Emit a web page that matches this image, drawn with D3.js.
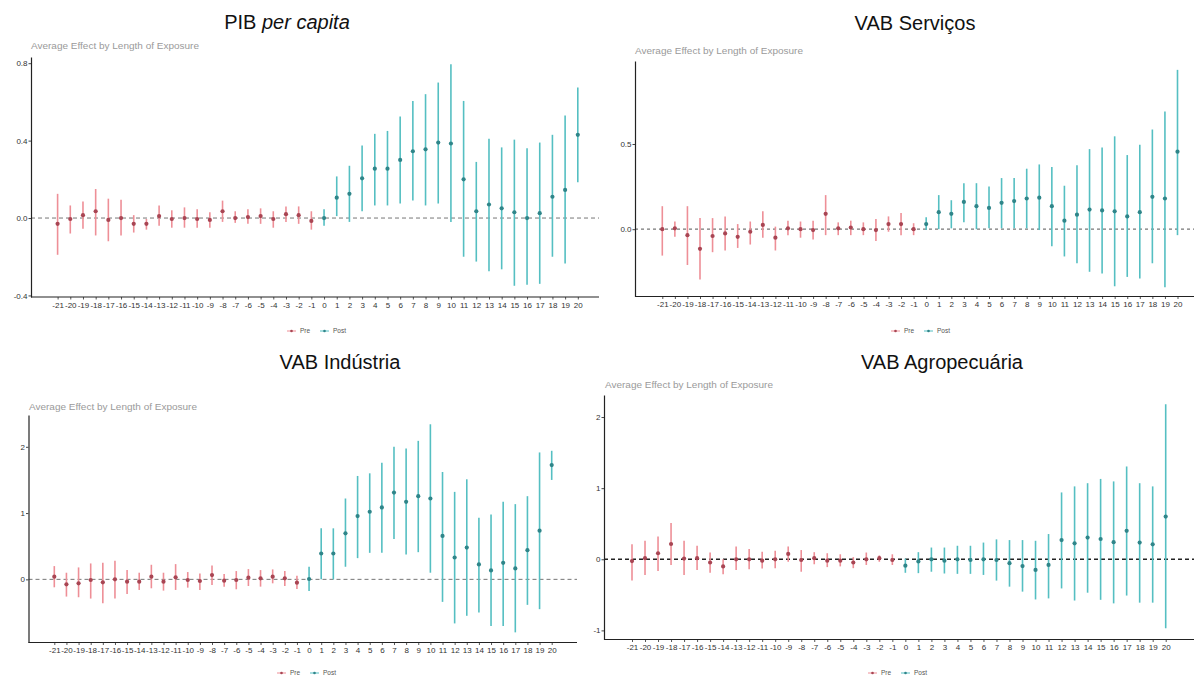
<!DOCTYPE html>
<html>
<head>
<meta charset="utf-8">
<script src="https://cdn.jsdelivr.net/npm/d3@7"></script>
<style>
  html, body { margin: 0; padding: 0; background: #fff; }
  svg { display: block; }
  text { font-family: "Liberation Sans", Arial, sans-serif; }
</style>
</head>
<body>
<svg id="chart" width="1194" height="677"></svg>
<script>
// ---------------- DATA ----------------
const events = [-21,-20,-19,-18,-17,-16,-15,-14,-13,-12,-11,-10,-9,-8,-7,-6,-5,-4,-3,-2,-1,
                 0,1,2,3,4,5,6,7,8,9,10,11,12,13,14,15,16,17,18,19,20];
const groups = ["Pre", "Post"];

// PIB per capita
const pibEst = [-0.03,-0.005,0.015,0.035,-0.01,0.0,-0.03,-0.03,0.01,-0.005,0.0,-0.005,-0.01,0.035,0.0,0.005,0.01,-0.005,0.02,0.015,-0.015,
                0.0,0.105,0.125,0.205,0.255,0.255,0.30,0.345,0.355,0.39,0.385,0.20,0.035,0.07,0.05,0.03,0.0,0.025,0.11,0.145,0.43];
const pibHi  = [0.125,0.065,0.085,0.15,0.10,0.095,0.015,-0.005,0.065,0.04,0.055,0.045,0.03,0.09,0.035,0.045,0.05,0.035,0.06,0.06,0.035,
                0.045,0.215,0.27,0.375,0.435,0.45,0.525,0.605,0.64,0.70,0.795,0.605,0.29,0.41,0.365,0.405,0.36,0.39,0.43,0.53,0.675];
const pibLo  = [-0.19,-0.08,-0.055,-0.09,-0.12,-0.09,-0.075,-0.06,-0.04,-0.05,-0.05,-0.05,-0.05,-0.02,-0.025,-0.03,-0.03,-0.05,-0.02,-0.03,-0.06,
                -0.04,0.01,-0.02,0.035,0.065,0.065,0.075,0.09,0.065,0.075,-0.02,-0.20,-0.225,-0.275,-0.265,-0.35,-0.345,-0.34,-0.20,-0.235,0.185];
const pibTicks = [-0.4, 0.0, 0.4, 0.8];

// VAB Serviços
const servEst = [0,0.005,-0.035,-0.115,-0.04,-0.025,-0.045,-0.015,0.025,-0.05,0.005,0,-0.005,0.09,0.005,0.01,0,-0.005,0.03,0.03,0,
                 0.03,0.10,0.09,0.16,0.135,0.125,0.155,0.165,0.18,0.185,0.135,0.05,0.085,0.115,0.11,0.105,0.075,0.10,0.19,0.18,0.455];
const servHi  = [0.135,0.045,0.135,0.065,0.065,0.075,0.03,0.045,0.105,0.015,0.05,0.045,0.05,0.2,0.04,0.05,0.04,0.06,0.075,0.095,0.035,
                 0.07,0.2,0.17,0.27,0.27,0.25,0.30,0.30,0.355,0.38,0.365,0.255,0.375,0.47,0.48,0.545,0.435,0.495,0.585,0.69,0.935];
const servLo  = [-0.155,-0.045,-0.21,-0.295,-0.135,-0.125,-0.11,-0.09,-0.05,-0.125,-0.035,-0.05,-0.06,-0.035,-0.035,-0.035,-0.035,-0.07,-0.015,-0.035,-0.035,
                 -0.005,0.0,0.005,0.04,0.0,0.005,0.005,0.005,0.005,-0.005,-0.1,-0.16,-0.2,-0.25,-0.26,-0.335,-0.28,-0.29,-0.2,-0.34,-0.035];
const servTicks = [0.0, 0.5];

// VAB Indústria
const indEst = [0.04,-0.075,-0.06,-0.01,-0.045,0.0,-0.035,-0.035,0.04,-0.035,0.03,-0.01,-0.025,0.065,-0.02,-0.01,0.025,0.015,0.04,0.015,-0.05,
                0.005,0.39,0.39,0.695,0.955,1.02,1.085,1.31,1.17,1.255,1.22,0.655,0.33,0.48,0.225,0.135,0.25,0.165,0.44,0.735,1.725];
const indHi  = [0.2,0.1,0.18,0.24,0.25,0.28,0.14,0.1,0.22,0.1,0.23,0.11,0.09,0.21,0.08,0.125,0.155,0.14,0.15,0.125,0.055,
                0.19,0.77,0.77,1.22,1.56,1.6,1.76,2.0,1.975,2.09,2.34,1.62,1.32,1.51,0.93,0.98,1.17,1.135,1.255,1.915,1.94];
const indLo  = [-0.12,-0.26,-0.27,-0.29,-0.36,-0.29,-0.22,-0.16,-0.135,-0.17,-0.16,-0.125,-0.16,-0.085,-0.11,-0.15,-0.1,-0.11,-0.06,-0.1,-0.145,
                -0.175,0.0,0.0,0.19,0.32,0.40,0.40,0.61,0.375,0.41,0.10,-0.34,-0.665,-0.55,-0.5,-0.705,-0.705,-0.80,-0.385,-0.45,1.5];
const indTicks = [0, 1, 2];

// VAB Agropecuária
const agroEst = [-0.025,0.015,0.085,0.215,0.01,0.015,-0.045,-0.10,0.0,0.0,-0.02,0.0,0.075,-0.01,0.015,-0.02,-0.02,-0.045,0.0,0.015,-0.01,
                 -0.09,-0.03,0.0,-0.02,0.0,-0.01,0.0,-0.01,-0.055,-0.095,-0.15,-0.08,0.27,0.225,0.305,0.285,0.24,0.40,0.235,0.21,0.60];
const agroHi  = [0.21,0.26,0.32,0.51,0.26,0.19,0.095,0.0,0.18,0.145,0.105,0.12,0.18,0.13,0.10,0.085,0.07,0.03,0.095,0.055,0.07,
                 0.01,0.1,0.165,0.165,0.19,0.19,0.235,0.28,0.27,0.27,0.26,0.355,0.94,1.025,1.07,1.13,1.095,1.305,1.07,1.025,2.18];
const agroLo  = [-0.30,-0.22,-0.165,-0.08,-0.22,-0.15,-0.19,-0.21,-0.15,-0.14,-0.13,-0.125,-0.035,-0.175,-0.07,-0.11,-0.10,-0.125,-0.08,-0.035,-0.08,
                 -0.19,-0.195,-0.175,-0.2,-0.205,-0.205,-0.22,-0.30,-0.385,-0.455,-0.565,-0.55,-0.41,-0.58,-0.47,-0.57,-0.62,-0.51,-0.61,-0.61,-0.97];
const agroTicks = [-1, 0, 1, 2];

const subtitleText = "Average Effect by Length of Exposure";

// ---------------- LAYOUT / STYLE ----------------
const barColor = { Pre: "#ee8f97", Post: "#55bfc2" };
const ptColor  = { Pre: "#a84553", Post: "#2f8589" };
const hyph = f => d => f(d).replace("\u2212", "-");

const panels = [
  { title: ["PIB ", "per capita"], est: pibEst, lo: pibLo, hi: pibHi, ticks: pibTicks, fmt: hyph(d3.format(".1f")),
    axisX: 31, first: 57.6, last: 577.8, right: 599, top: 57, bottom: 297, yDom: [-0.408, 0.832],
    titleX: 287, titleY: 29, subX: 31, subY: 49, legX: 287, legY: 331,
    dash: { stroke: "#666", width: 0.9, arr: "4,3" } },
  { title: ["VAB Serviços"], est: servEst, lo: servLo, hi: servHi, ticks: servTicks, fmt: hyph(d3.format(".1f")),
    axisX: 635, first: 662.3, last: 1177.5, right: 1194, top: 61, bottom: 296.5, yDom: [-0.395, 0.987],
    titleX: 915, titleY: 30, subX: 635, subY: 54, legX: 891, legY: 331,
    dash: { stroke: "#777", width: 1.3, arr: "3,3" } },
  { title: ["VAB Indústria"], est: indEst, lo: indLo, hi: indHi, ticks: indTicks, fmt: hyph(d3.format("d")),
    axisX: 28.5, first: 54.3, last: 551.7, right: 577, top: 415, bottom: 642.5, yDom: [-0.953, 2.48],
    titleX: 340, titleY: 369, subX: 29, subY: 410, legX: 277, legY: 673,
    dash: { stroke: "#666", width: 0.9, arr: "4,3" } },
  { title: ["VAB Agropecuária"], est: agroEst, lo: agroLo, hi: agroHi, ticks: agroTicks, fmt: hyph(d3.format("d")),
    axisX: 604, first: 632, last: 1165.7, right: 1194, top: 395, bottom: 639.5, yDom: [-1.128, 2.31],
    titleX: 942, titleY: 369, subX: 605, subY: 388, legX: 868, legY: 673,
    dash: { stroke: "#222", width: 1.5, arr: "4,3" } }
];

const svg = d3.select("#chart");
svg.append("rect").attr("width", 1194).attr("height", 677).attr("fill", "#fff");

panels.forEach(p => {
  const g = svg.append("g");
  const x = d3.scaleLinear().domain([events[0], events[events.length - 1]]).range([p.first, p.last]);
  const y = d3.scaleLinear().domain(p.yDom).range([p.bottom, p.top]);

  // title
  const t = g.append("text").attr("x", p.titleX).attr("y", p.titleY)
    .attr("text-anchor", "middle").attr("font-size", 20).attr("fill", "#111");
  t.append("tspan").text(p.title[0]);
  if (p.title[1]) t.append("tspan").attr("font-style", "italic").text(p.title[1]);

  // subtitle
  g.append("text").attr("x", p.subX).attr("y", p.subY).attr("font-size", 8.6)
    .attr("fill", "#9a9a9a").attr("textLength", 168).attr("lengthAdjust", "spacingAndGlyphs")
    .text(subtitleText);

  // zero reference line
  g.append("line").attr("x1", p.axisX).attr("x2", p.right).attr("y1", y(0)).attr("y2", y(0))
    .attr("stroke", p.dash.stroke).attr("stroke-width", p.dash.width).attr("stroke-dasharray", p.dash.arr);

  // error bars and points
  const rows = events.map((e, i) => ({ e, est: p.est[i], lo: p.lo[i], hi: p.hi[i], grp: e < 0 ? groups[0] : groups[1] }));
  g.selectAll(".bar").data(rows).enter().append("line")
    .attr("x1", d => x(d.e)).attr("x2", d => x(d.e))
    .attr("y1", d => y(d.lo)).attr("y2", d => y(d.hi))
    .attr("stroke", d => barColor[d.grp]).attr("stroke-width", 1.6);
  g.selectAll(".pt").data(rows).enter().append("circle")
    .attr("cx", d => x(d.e)).attr("cy", d => y(d.est)).attr("r", 2.1)
    .attr("fill", d => ptColor[d.grp]);

  // y axis
  const ya = g.append("g").attr("transform", `translate(${p.axisX},0)`)
    .call(d3.axisLeft(y).tickValues(p.ticks).tickFormat(p.fmt).tickSize(2.5).tickSizeOuter(0));
  ya.select(".domain").attr("stroke", "#222").attr("stroke-width", 1.2);
  ya.selectAll(".tick line").attr("stroke", "#444");
  ya.selectAll(".tick text").attr("font-size", 8).attr("fill", "#333")
    .attr("font-family", "Liberation Sans, Arial, sans-serif").attr("x", -3.5);

  // x axis
  const xa = g.append("g").attr("transform", `translate(0,${p.bottom})`)
    .call(d3.axisBottom(x).tickValues(events).tickFormat(hyph(d3.format("d"))).tickSize(2.5).tickSizeOuter(0));
  xa.select(".domain").remove();
  xa.selectAll(".tick line").attr("stroke", "#555");
  xa.selectAll(".tick text").attr("font-size", 8).attr("fill", "#333")
    .attr("font-family", "Liberation Sans, Arial, sans-serif").attr("y", 5);
  g.append("line").attr("x1", p.axisX).attr("x2", p.right).attr("y1", p.bottom).attr("y2", p.bottom)
    .attr("stroke", "#222").attr("stroke-width", 1.2);

  // legend
  const lg = g.append("g").attr("transform", `translate(${p.legX},${p.legY})`);
  let off = 0;
  groups.forEach(k => {
    lg.append("line").attr("x1", off).attr("x2", off + 9).attr("y1", 0).attr("y2", 0)
      .attr("stroke", barColor[k]).attr("stroke-width", 1);
    lg.append("circle").attr("cx", off + 4.5).attr("cy", 0).attr("r", 1.3).attr("fill", ptColor[k]);
    lg.append("text").attr("x", off + 13).attr("y", 2.2).attr("font-size", 6.5).attr("fill", "#555").text(k);
    off += 33;
  });
});
</script>
</body>
</html>
